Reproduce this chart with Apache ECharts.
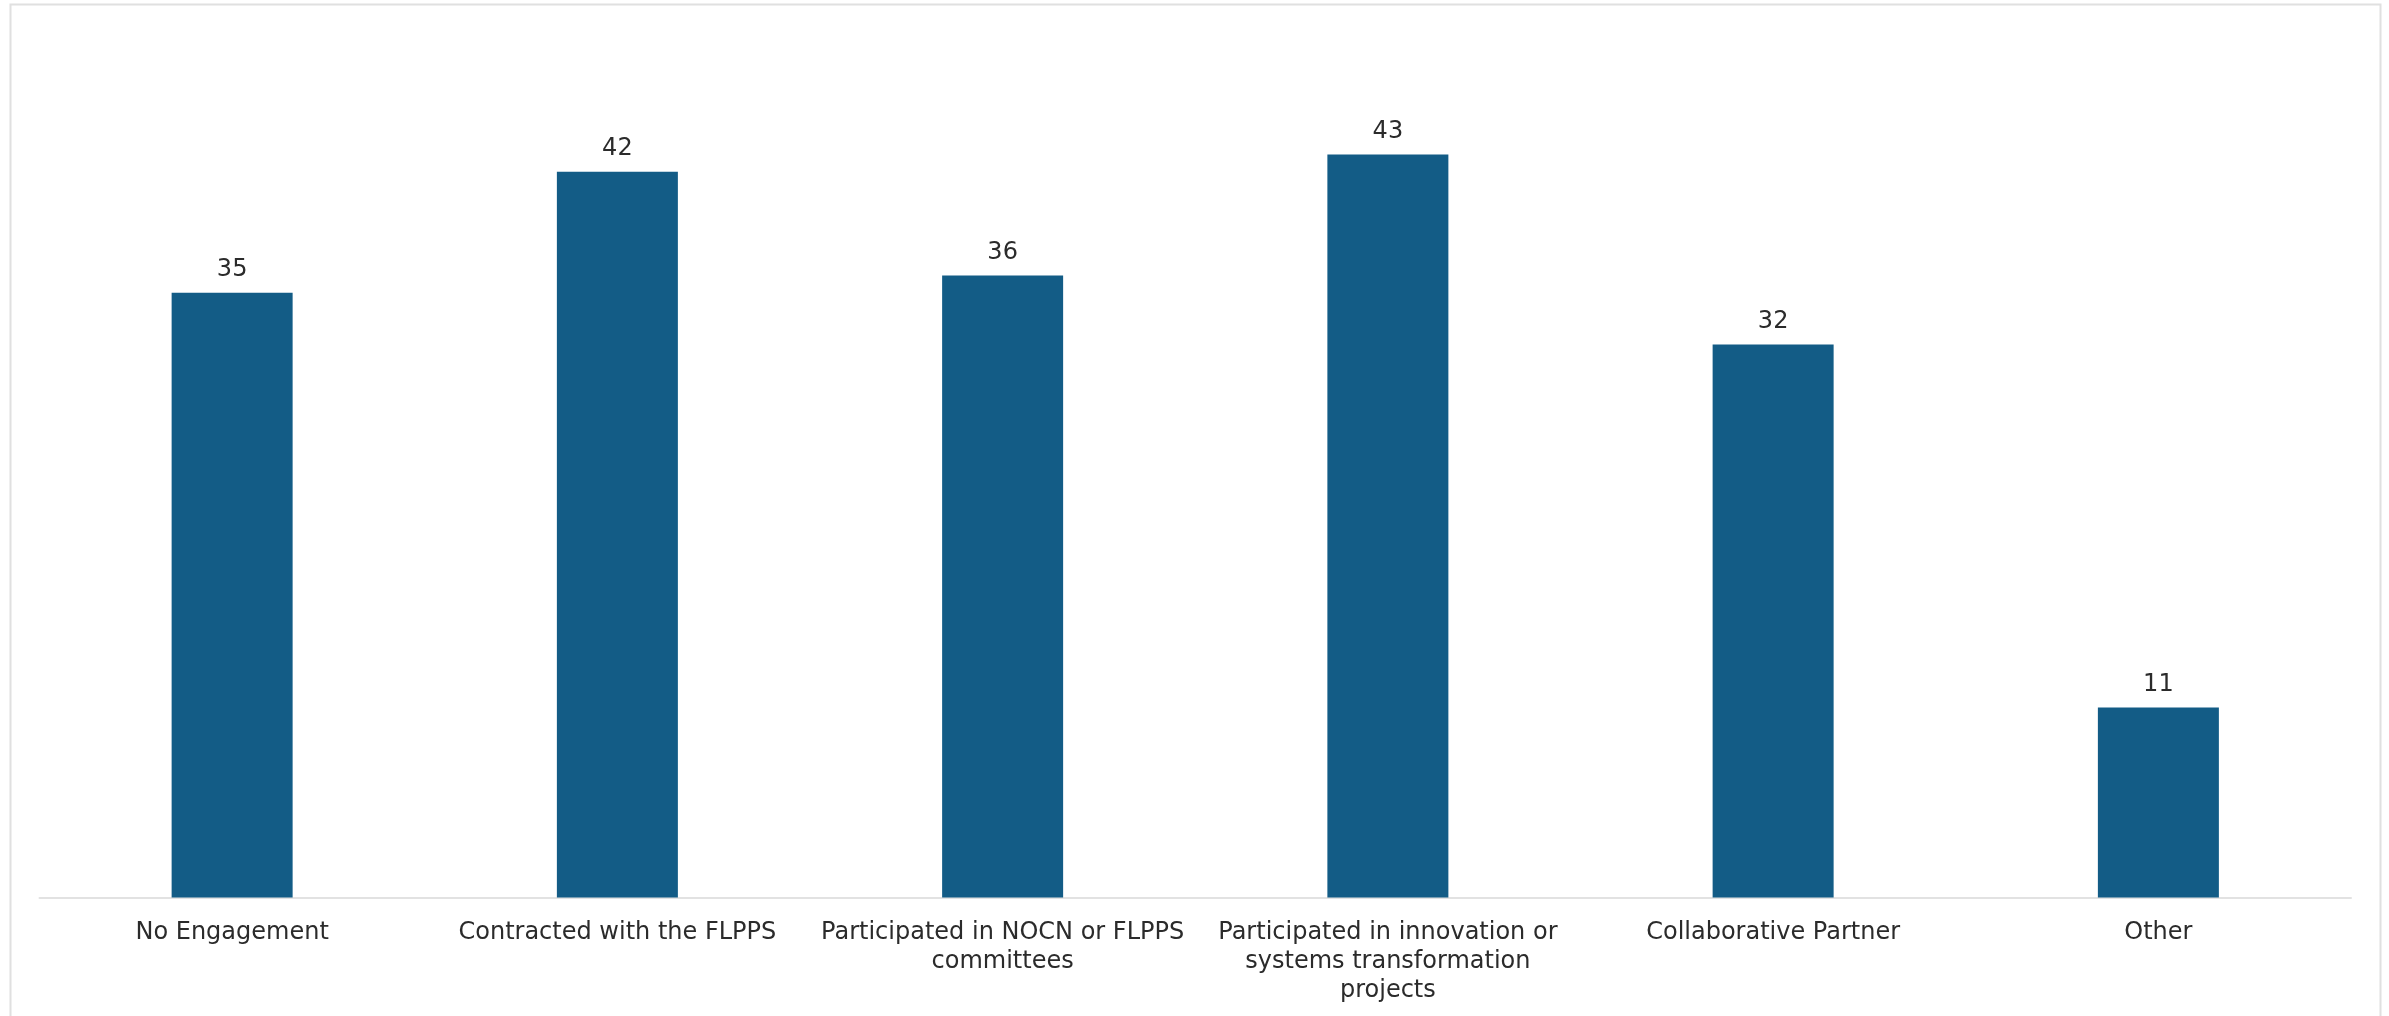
<!DOCTYPE html>
<html>
<head>
<meta charset="utf-8">
<style>
  html, body { margin: 0; padding: 0; background: #ffffff; }
  #chart { width: 2389px; height: 1016px; }
</style>
<script src="https://cdn.jsdelivr.net/npm/echarts@6/dist/echarts.min.js"></script>
</head>
<body>
<div id="chart"></div>
<script>
// Engagement categories (line breaks as shown under the axis)
const categories = [
  'No Engagement',
  'Contracted with the FLPPS',
  'Participated in NOCN or FLPPS\ncommittees',
  'Participated in innovation or\nsystems transformation\nprojects',
  'Collaborative Partner',
  'Other'
];

// Number of respondents per category
const counts = [35, 42, 36, 43, 32, 11];

const barColor = '#135c86';
const textColor = '#2b2b2b';
const fontFamily = '"DejaVu Sans", Verdana, sans-serif';

const chart = echarts.init(document.getElementById('chart'), null, { renderer: 'canvas' });

chart.setOption({
  animation: false,
  backgroundColor: '#ffffff',
  graphic: [{
    type: 'rect',
    z: -10,
    silent: true,
    shape: { x: 10.5, y: 4.5, width: 2370, height: 1040 },
    style: { fill: 'none', stroke: '#e0e0e0', lineWidth: 2 }
  }],
  grid: { left: 39.5, right: 38, top: 33.5, bottom: 118.5, containLabel: false },
  xAxis: {
    type: 'category',
    data: categories,
    axisLine: { show: true, lineStyle: { color: '#e2e2e2', width: 2 } },
    axisTick: { show: false },
    axisLabel: {
      interval: 0,
      margin: 21,
      color: textColor,
      fontFamily: fontFamily,
      fontSize: 24,
      lineHeight: 29,
      align: 'center'
    }
  },
  yAxis: {
    type: 'value',
    min: 0,
    max: 50,
    show: false,
    splitLine: { show: false }
  },
  series: [{
    type: 'bar',
    data: counts,
    barWidth: 121,
    itemStyle: { color: barColor },
    label: {
      show: true,
      position: 'top',
      distance: 11,
      color: textColor,
      fontFamily: fontFamily,
      fontSize: 24,
      lineHeight: 24
    }
  }]
});
</script>
</body>
</html>
